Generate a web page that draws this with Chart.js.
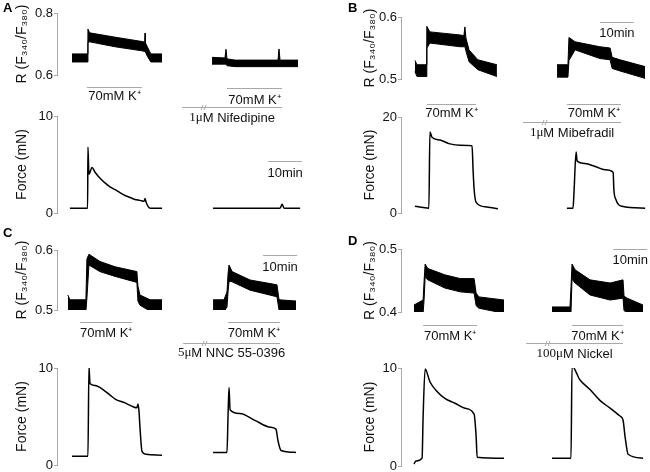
<!DOCTYPE html>
<html>
<head>
<meta charset="utf-8">
<script src="https://cdn.jsdelivr.net/npm/chart.js@4.4.1/dist/chart.umd.min.js"></script>
<style>
  body { margin: 0; background: #fff; }
  #fig { position: relative; width: 650px; height: 472px; overflow: hidden; }
  #fig canvas { position: absolute; }
</style>
</head>
<body>
<div id="fig"></div>
<script>
// ---- data, time in minutes from the y axis ----
// A: nifedipine
const aRatioT1 = [4.4, 9.0, 9.1, 9.6, 17.1, 25.0, 25.8, 25.9, 26.0, 26.6, 27.6, 30.9];
const aRatioTop1 = [0.668, 0.668, 0.748, 0.736, 0.722, 0.708, 0.706, 0.735, 0.704, 0.690, 0.668, 0.668];
const aRatioBot1 = [0.642, 0.642, 0.705, 0.707, 0.691, 0.678, 0.676, 0.676, 0.674, 0.660, 0.642, 0.642];
const aRatioT2 = [45.6, 49.4, 49.7, 50.0, 52.4, 65.0, 65.3, 65.6, 70.9];
const aRatioTop2 = [0.657, 0.655, 0.683, 0.652, 0.648, 0.648, 0.684, 0.648, 0.648];
const aRatioBot2 = [0.635, 0.635, 0.635, 0.630, 0.627, 0.627, 0.627, 0.627, 0.627];
const aForceT1 = [3.8, 9.0, 9.1, 9.4, 9.7, 10.3, 11.2, 12.6, 14.1, 15.6, 17.1, 18.5, 20.0, 21.5, 22.9, 24.4, 25.6, 25.9, 26.2, 27.4, 30.9];
const aForce1 = [0.5, 0.5, 6.8, 4.0, 4.2, 4.7, 4.2, 3.6, 3.1, 2.7, 2.4, 2.1, 1.8, 1.6, 1.4, 1.3, 1.2, 1.5, 1.1, 0.5, 0.5];
const aForceT2 = [45.9, 65.6, 66.2, 66.8, 71.5];
const aForce2 = [0.5, 0.5, 0.9, 0.5, 0.5];

// B: mibefradil
const bRatioT1 = [4.1, 4.7, 7.4, 7.6, 8.5, 17.4, 18.5, 18.8, 19.1, 20.0, 22.6, 28.2];
const bRatioTop1 = [0.530, 0.523, 0.523, 0.585, 0.576, 0.571, 0.570, 0.584, 0.566, 0.547, 0.531, 0.523];
const bRatioBot1 = [0.512, 0.504, 0.504, 0.550, 0.558, 0.552, 0.552, 0.552, 0.545, 0.528, 0.515, 0.504];
const bRatioT2 = [45.9, 49.1, 49.4, 51.2, 58.5, 61.5, 62.1, 64.4, 71.8];
const bRatioTop2 = [0.523, 0.523, 0.567, 0.560, 0.552, 0.550, 0.535, 0.531, 0.520];
const bRatioBot2 = [0.503, 0.503, 0.530, 0.547, 0.533, 0.531, 0.517, 0.513, 0.501];
const bForceT1 = [4.1, 8.2, 8.5, 9.1, 11.5, 14.4, 17.4, 20.9, 21.2, 21.5, 22.1, 24.7, 28.5];
const bForce1 = [1.4, 1.0, 16.9, 15.8, 15.2, 14.4, 14.1, 14.0, 9.0, 5.0, 2.2, 1.3, 0.9];
const bForceT2 = [48.8, 50.6, 50.9, 51.5, 51.8, 54.1, 57.1, 60.0, 62.4, 62.6, 63.2, 65.0, 71.8];
const bForce2 = [1.0, 1.0, 4.6, 12.7, 10.8, 10.3, 9.7, 9.0, 8.5, 5.0, 2.8, 1.4, 1.0];

// C: NNC 55-0396
const cRatioT1 = [3.2, 3.8, 8.5, 8.8, 9.4, 12.6, 17.1, 23.5, 23.8, 24.4, 27.4, 30.9];
const cRatioTop1 = [0.525, 0.517, 0.517, 0.585, 0.593, 0.581, 0.572, 0.564, 0.540, 0.525, 0.517, 0.517];
const cRatioBot1 = [0.500, 0.498, 0.498, 0.520, 0.575, 0.564, 0.556, 0.546, 0.515, 0.508, 0.498, 0.498];
const cRatioT2 = [45.9, 49.1, 50.0, 50.3, 50.6, 51.5, 56.8, 64.7, 65.3, 70.3];
const cRatioTop2 = [0.517, 0.517, 0.530, 0.560, 0.575, 0.564, 0.550, 0.542, 0.517, 0.515];
const cRatioBot2 = [0.497, 0.497, 0.505, 0.530, 0.548, 0.547, 0.533, 0.522, 0.500, 0.497];
const cForceT1 = [4.4, 9.1, 9.4, 9.7, 11.2, 12.6, 15.6, 17.1, 20.0, 22.4, 23.5, 23.8, 24.1, 24.4, 25.0, 26.2, 30.9];
const cForce1 = [0.9, 0.9, 10.2, 8.4, 8.2, 8.0, 7.2, 6.8, 6.4, 6.0, 5.9, 6.3, 5.6, 3.9, 1.4, 1.1, 1.0];
const cForceT2 = [45.9, 50.0, 50.3, 50.6, 50.9, 53.8, 58.2, 62.6, 64.4, 65.0, 65.9, 70.3];
const cForce2 = [1.3, 1.3, 5.0, 8.0, 5.7, 5.3, 4.6, 3.9, 3.7, 2.5, 1.5, 1.3];

// D: nickel
const dRatioT1 = [3.8, 6.5, 6.8, 7.1, 7.9, 12.9, 17.4, 21.5, 22.1, 22.9, 30.3];
const dRatioTop1 = [0.411, 0.419, 0.450, 0.476, 0.469, 0.459, 0.453, 0.453, 0.430, 0.424, 0.419];
const dRatioBot1 = [0.390, 0.398, 0.420, 0.455, 0.451, 0.438, 0.432, 0.430, 0.410, 0.406, 0.398];
const dRatioT2 = [44.4, 49.7, 50.0, 50.3, 51.2, 55.6, 61.5, 65.3, 65.6, 66.5, 71.2];
const dRatioTop2 = [0.408, 0.408, 0.440, 0.476, 0.467, 0.451, 0.446, 0.451, 0.425, 0.422, 0.411];
const dRatioBot2 = [0.387, 0.387, 0.400, 0.452, 0.446, 0.427, 0.419, 0.422, 0.402, 0.400, 0.387];
const dForceT1 = [3.8, 4.4, 6.2, 6.5, 7.1, 8.5, 10.6, 12.9, 15.9, 18.8, 21.5, 22.1, 22.4, 30.3];
const dForce1 = [0.2, 0.5, 0.8, 5.0, 9.9, 8.6, 7.6, 6.9, 6.4, 5.9, 5.3, 3.0, 0.9, 0.8];
const dForceT2 = [44.4, 50.0, 50.3, 52.6, 55.6, 58.5, 61.5, 64.4, 65.3, 65.9, 66.8, 71.2];
const dForce2 = [0.8, 0.8, 10.2, 8.8, 7.8, 6.7, 5.9, 5.1, 4.7, 3.0, 1.2, 0.8];

// 70mM K+ applications, drug periods, 10 min scale bars
const kPulsesA = [[8.8, 25.0], [50.0, 66.2]];
const kPulsesB = [[7.6, 22.1], [48.8, 64.7]];
const kPulsesC = [[6.8, 22.1], [50.3, 65.6]];
const kPulsesD = [[6.5, 22.4], [50.3, 65.3]];
const drugA = [36.8, 66.2];
const drugB = [35.9, 64.7];
const drugC = [37.1, 65.6];
const drugD = [36.8, 65.3];
const scaleA = [62.1, 72.1];
const scaleB = [58.5, 68.5];
const scaleC = [60.6, 70.6];
const scaleD = [62.4, 72.4];

const ratioTicksA = [0.6, 0.8];
const ratioTicksB = [0.5, 0.6];
const ratioTicksC = [0.5, 0.6];
const ratioTicksD = [0.4, 0.5];
const forceTicksA = [0, 10];
const forceTicksB = [0, 20];
const forceTicksC = [0, 10];
const forceTicksD = [0, 10];

// ---- drawing ----
const PX_PER_MIN = 3.4;
const AXIS_W = 57;
const SANS = '"Liberation Sans", Arial, sans-serif';
const SERIF = '"Liberation Serif", "Times New Roman", serif';
const GREY = '#a8a8a8';
const INK = '#111';
const fig = document.getElementById('fig');

function pts(t, v) {
	return t.map((x, i) => ({ x: x, y: v[i] }));
}

function band(t, top, bot) {
	return [
		{ data: pts(t, top), borderColor: '#000', borderWidth: 1, fill: false },
		{ data: pts(t, bot), borderColor: '#000', borderWidth: 1, fill: '-1', backgroundColor: '#000' }
	];
}

function trace(t, v) {
	return { data: pts(t, v), borderColor: '#000', borderWidth: 1.5, cubicInterpolationMode: 'monotone', fill: false };
}

const annotPlugin = {
	id: 'annot',
	afterDraw(chart, args, o) {
		const ctx = chart.ctx;
		const xs = chart.scales.x;
		const X = v => xs.getPixelForValue(v);
		const dy = o.top, dx = o.left;

		function hline(x1, x2, y) {
			ctx.beginPath();
			ctx.moveTo(x1, Math.round(y - dy) + 0.5);
			ctx.lineTo(x2, Math.round(y - dy) + 0.5);
			ctx.stroke();
		}

		ctx.save();
		ctx.strokeStyle = GREY;
		ctx.lineWidth = 1;
		ctx.fillStyle = INK;
		ctx.textBaseline = 'middle';

		// axis title
		const area = chart.chartArea;
		ctx.save();
		ctx.translate(o.titleX - dx, (area.top + area.bottom) / 2);
		ctx.rotate(-Math.PI / 2);
		ctx.textAlign = 'center';
		ctx.font = '14px ' + SANS;
		ctx.fillText(o.title, 0, 0);
		ctx.restore();

		if (o.letter) {
			ctx.font = 'bold 13px ' + SANS;
			ctx.textAlign = 'left';
			ctx.fillStyle = '#000';
			ctx.fillText(o.letter[0], o.letter[1] - dx, o.letter[2] - dy);
			ctx.fillStyle = INK;
		}

		ctx.font = '13px ' + SANS;
		ctx.textAlign = 'center';

		if (o.pulses) {
			o.pulses.forEach((p, i) => {
				hline(X(p[0]), X(p[1]), o.kBarY[i]);
				ctx.fillText('70mM K⁺', (X(p[0]) + X(p[1])) / 2, o.kLabelY[i] - dy);
			});
		}

		if (o.drug) {
			const x1 = X(o.drug[0]), x2 = X(o.drug[1]);
			hline(x1, x2, o.drugY);
			const bx = x1 + 21, by = Math.round(o.drugY - dy) + 0.5;
			ctx.beginPath();
			ctx.moveTo(bx - 2, by + 2.5); ctx.lineTo(bx, by - 2.5);
			ctx.moveTo(bx + 1, by + 2.5); ctx.lineTo(bx + 3, by - 2.5);
			ctx.stroke();
			ctx.font = '13px ' + SERIF;
			const w1 = ctx.measureText(o.drugLabel[0]).width;
			ctx.font = '13px ' + SANS;
			const w2 = ctx.measureText(o.drugLabel[1]).width;
			const sx = (x1 + x2) / 2 - (w1 + w2) / 2;
			ctx.textAlign = 'left';
			ctx.font = '13px ' + SERIF;
			ctx.fillText(o.drugLabel[0], sx, o.drugLabelY - dy);
			ctx.font = '13px ' + SANS;
			ctx.fillText(o.drugLabel[1], sx + w1, o.drugLabelY - dy);
			ctx.textAlign = 'center';
		}

		if (o.scaleBar) {
			const x1 = X(o.scaleBar[0]), x2 = X(o.scaleBar[1]);
			hline(x1, x2, o.scaleY);
			ctx.fillText('10min', (x1 + x2) / 2, o.scaleLabelY - dy);
		}
		ctx.restore();
	}
};

function addPanel(p) {
	const cv = document.createElement('canvas');
	cv.width = p.w;
	cv.height = p.h;
	cv.style.left = p.left + 'px';
	cv.style.top = p.top + 'px';
	fig.appendChild(cv);

	const annot = Object.assign({ top: p.top, left: p.left, title: p.title, titleX: p.titleX }, p.annot || {});

	new Chart(cv, {
		type: 'line',
		data: { datasets: p.datasets },
		options: {
			responsive: false,
			animation: false,
			events: [],
			layout: { padding: { top: p.area[0] - p.top, bottom: p.top + p.h - p.area[1], left: 0, right: 0 } },
			elements: { point: { radius: 0 }, line: { tension: 0 } },
			plugins: { legend: { display: false }, tooltip: { enabled: false }, annot: annot },
			scales: {
				x: {
					type: 'linear', display: false, min: 0, max: (p.w - AXIS_W) / PX_PER_MIN,
					afterFit: s => { s.paddingLeft = 0; s.paddingRight = 0; }
				},
				y: {
					min: p.ticks[0], max: p.ticks[1],
					afterBuildTicks: s => { s.ticks = p.ticks.map(v => ({ value: v })); },
					afterFit: s => { s.width = AXIS_W; s.paddingTop = 0; s.paddingBottom = 0; },
					ticks: {
						callback: p.fmt,
						color: INK,
						padding: 1,
						font: { family: SANS, size: 13 }
					},
					grid: { drawOnChartArea: false, drawTicks: true, tickLength: 3, color: GREY },
					border: { color: GREY, width: 1 }
				}
			}
		},
		plugins: [annotPlugin]
	});
}

const RATIO_TITLE = 'R (F₃₄₀/F₃₈₀)';
const FORCE_TITLE = 'Force (mN)';
const fmtRatio = v => Number(v).toFixed(1);
const fmtForce = v => String(v);

// A
addPanel({
	left: 0, top: 0, w: 312, h: 130, area: [13, 75], ticks: ratioTicksA, fmt: fmtRatio,
	title: RATIO_TITLE, titleX: 22,
	datasets: band(aRatioT1, aRatioTop1, aRatioBot1).concat(band(aRatioT2, aRatioTop2, aRatioBot2)),
	annot: {
		letter: ['A', 3, 8],
		pulses: kPulsesA, kBarY: [87, 88], kLabelY: [96, 100],
		drug: drugA, drugY: 107, drugLabel: ['1μ', 'M Nifedipine'], drugLabelY: 118
	}
});
addPanel({
	left: 0, top: 100, w: 312, h: 125, area: [116, 213], ticks: forceTicksA, fmt: fmtForce,
	title: FORCE_TITLE, titleX: 22,
	datasets: [trace(aForceT1, aForce1), trace(aForceT2, aForce2)],
	annot: { scaleBar: scaleA, scaleY: 161, scaleLabelY: 173 }
});

// B
addPanel({
	left: 344, top: 0, w: 306, h: 140, area: [17, 79], ticks: ratioTicksB, fmt: fmtRatio,
	title: RATIO_TITLE, titleX: 370,
	datasets: band(bRatioT1, bRatioTop1, bRatioBot1).concat(band(bRatioT2, bRatioTop2, bRatioBot2)),
	annot: {
		letter: ['B', 348, 8],
		scaleBar: scaleB, scaleY: 22, scaleLabelY: 33,
		pulses: kPulsesB, kBarY: [104, 104], kLabelY: [113, 113],
		drug: drugB, drugY: 122, drugLabel: ['1μ', 'M Mibefradil'], drugLabelY: 133
	}
});
addPanel({
	left: 344, top: 100, w: 306, h: 125, area: [117, 213], ticks: forceTicksB, fmt: fmtForce,
	title: FORCE_TITLE, titleX: 370,
	datasets: [trace(bForceT1, bForce1), trace(bForceT2, bForce2)]
});

// C
addPanel({
	left: 0, top: 228, w: 312, h: 140, area: [250, 310], ticks: ratioTicksC, fmt: fmtRatio,
	title: RATIO_TITLE, titleX: 22,
	datasets: band(cRatioT1, cRatioTop1, cRatioBot1).concat(band(cRatioT2, cRatioTop2, cRatioBot2)),
	annot: {
		letter: ['C', 3, 233],
		scaleBar: scaleC, scaleY: 255, scaleLabelY: 267,
		pulses: kPulsesC, kBarY: [322, 322], kLabelY: [333, 333],
		drug: drugC, drugY: 343, drugLabel: ['5μ', 'M NNC 55-0396'], drugLabelY: 353
	}
});
addPanel({
	left: 0, top: 350, w: 312, h: 122, area: [368, 465], ticks: forceTicksC, fmt: fmtForce,
	title: FORCE_TITLE, titleX: 22,
	datasets: [trace(cForceT1, cForce1), trace(cForceT2, cForce2)]
});

// D
addPanel({
	left: 344, top: 228, w: 306, h: 140, area: [249, 312], ticks: ratioTicksD, fmt: fmtRatio,
	title: RATIO_TITLE, titleX: 370,
	datasets: band(dRatioT1, dRatioTop1, dRatioBot1).concat(band(dRatioT2, dRatioTop2, dRatioBot2)),
	annot: {
		letter: ['D', 348, 241],
		scaleBar: scaleD, scaleY: 249, scaleLabelY: 260,
		pulses: kPulsesD, kBarY: [325, 325], kLabelY: [336, 336],
		drug: drugD, drugY: 343, drugLabel: ['100μ', 'M Nickel'], drugLabelY: 354
	}
});
addPanel({
	left: 344, top: 350, w: 306, h: 122, area: [368, 466], ticks: forceTicksD, fmt: fmtForce,
	title: FORCE_TITLE, titleX: 370,
	datasets: [trace(dForceT1, dForce1), trace(dForceT2, dForce2)]
});
</script>
</body>
</html>
